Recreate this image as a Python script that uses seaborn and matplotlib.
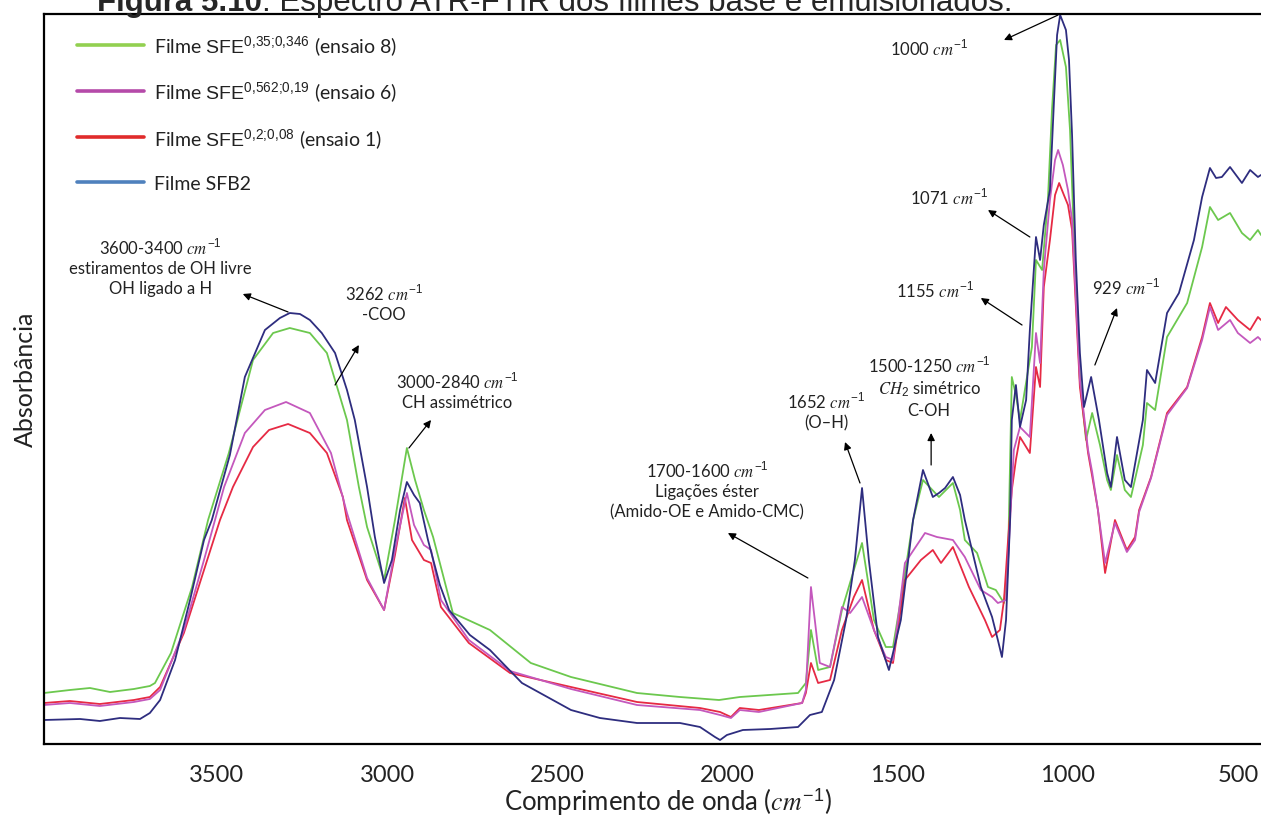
import matplotlib
matplotlib.use("Agg")
import matplotlib.pyplot as plt
import seaborn as sns
import pandas as pd
from matplotlib.lines import Line2D

# ATR-FTIR spectra (wavenumber in cm-1, absorbance in arbitrary units)
wn_sfb2 = [4008, 3902, 3844, 3785, 3726, 3697, 3667, 3623, 3579, 3538,
           3515, 3462, 3418, 3359, 3315, 3286, 3256, 3227, 3192, 3153,
           3118, 3095, 3059, 3036, 3009, 2986, 2962, 2942, 2921, 2904,
           2880, 2845, 2818, 2757, 2698, 2604, 2460, 2375, 2266, 2140,
           2081, 2037, 2022, 2002, 1955, 1875, 1793, 1758, 1723, 1687,
           1652, 1626, 1605, 1585, 1558, 1526, 1491, 1455, 1426, 1397,
           1379, 1361, 1338, 1317, 1303, 1256, 1223, 1206, 1194, 1182,
           1170, 1165, 1153, 1141, 1123, 1112, 1094, 1082, 1071, 1053,
           1041, 1032, 1023, 1006, 997, 988, 977, 965, 953, 932,
           909, 885, 874, 856, 833, 815, 780, 768, 744, 709,
           674, 630, 606, 583, 565, 548, 524, 489, 465, 442, 433]
abs_sfb2 = [.024, .025, .023, .026, .025, .031, .044, .084, .144, .204,
            .224, .289, .367, .414, .426, .431, .430, .424, .411, .391,
            .354, .324, .257, .207, .161, .184, .234, .262, .249, .241,
            .204, .159, .134, .109, .094, .061, .034, .026, .021, .021,
            .017, .007, .004, .009, .014, .015, .017, .029, .032, .064,
            .124, .184, .256, .184, .107, .074, .124, .224, .274, .247,
            .251, .256, .267, .249, .224, .157, .127, .104, .087, .124,
            .224, .324, .359, .317, .344, .414, .507, .484, .519, .554,
            .644, .709, .729, .714, .684, .609, .484, .391, .337, .367,
            .324, .271, .257, .307, .264, .257, .324, .374, .361, .431,
            .451, .504, .547, .576, .566, .567, .577, .561, .574, .567, .569]

wn_e8 = [4008, 3932, 3873, 3814, 3744, 3697, 3682, 3635, 3573, 3526,
         3465, 3394, 3335, 3286, 3227, 3177, 3118, 3083, 3059, 3009,
         2977, 2942, 2918, 2892, 2865, 2807, 2698, 2578, 2460, 2266,
         2140, 2025, 1964, 1793, 1770, 1755, 1734, 1699, 1664, 1629,
         1605, 1588, 1570, 1535, 1514, 1485, 1455, 1426, 1379, 1338,
         1317, 1303, 1267, 1235, 1212, 1188, 1176, 1165, 1153, 1141,
         1106, 1094, 1076, 1059, 1047, 1035, 1023, 1006, 994, 977,
         965, 947, 929, 906, 885, 874, 856, 833, 815, 780,
         768, 744, 709, 650, 606, 583, 559, 524, 489, 465, 442, 433]
abs_e8 = [.051, .054, .056, .052, .055, .058, .061, .091, .157, .224,
          .291, .384, .411, .416, .411, .391, .324, .257, .217, .164,
          .224, .296, .264, .234, .207, .131, .114, .081, .067, .051,
          .047, .044, .047, .051, .061, .114, .074, .077, .134, .174,
          .201, .164, .124, .097, .097, .157, .224, .264, .247, .261,
          .234, .204, .191, .157, .154, .141, .184, .367, .349, .324,
          .397, .484, .474, .544, .634, .699, .704, .677, .614, .457,
          .364, .304, .331, .299, .264, .254, .289, .254, .247, .299,
          .341, .334, .407, .441, .497, .537, .524, .531, .511, .504, .514, .509]

wn_e1 = [4008, 3932, 3844, 3744, 3697, 3667, 3597, 3538, 3491, 3453,
         3394, 3347, 3291, 3227, 3177, 3130, 3118, 3059, 3009, 2977,
         2948, 2927, 2892, 2871, 2842, 2760, 2639, 2460, 2266, 2081,
         2022, 1990, 1964, 1908, 1781, 1770, 1755, 1734, 1699, 1664,
         1629, 1605, 1570, 1535, 1514, 1479, 1432, 1397, 1373, 1338,
         1291, 1244, 1223, 1200, 1188, 1176, 1165, 1153, 1141, 1112,
         1094, 1082, 1071, 1053, 1038, 1026, 1012, 1000, 988, 965,
         941, 929, 912, 891, 862, 827, 803, 791, 756, 709,
         650, 606, 583, 559, 536, 501, 465, 442, 433]
abs_e1 = [.041, .043, .040, .044, .047, .057, .111, .174, .224, .257,
          .297, .314, .320, .311, .291, .247, .224, .164, .134, .189,
          .246, .204, .184, .181, .137, .101, .071, .057, .042, .036,
          .032, .027, .036, .034, .041, .051, .081, .061, .064, .114,
          .147, .164, .114, .084, .081, .164, .184, .194, .181, .197,
          .157, .124, .107, .114, .144, .204, .254, .284, .307, .291,
          .377, .357, .457, .504, .549, .561, .549, .539, .514, .357,
          .291, .268, .234, .171, .224, .194, .207, .234, .267, .331,
          .357, .407, .441, .421, .437, .424, .414, .427, .424]

wn_e6 = [4008, 3932, 3844, 3744, 3697, 3667, 3597, 3538, 3479, 3418,
         3359, 3297, 3227, 3165, 3118, 3059, 3009, 2977, 2942, 2921,
         2892, 2871, 2842, 2760, 2639, 2460, 2266, 2081, 2022, 1990,
         1964, 1908, 1781, 1770, 1755, 1729, 1699, 1664, 1640, 1605,
         1570, 1535, 1514, 1479, 1420, 1385, 1338, 1303, 1256, 1223,
         1206, 1182, 1170, 1159, 1141, 1112, 1094, 1082, 1071, 1053,
         1038, 1029, 1015, 1000, 988, 965, 941, 929, 912, 891,
         862, 827, 803, 791, 756, 709, 650, 606, 583, 559,
         524, 501, 465, 442, 433]
abs_e6 = [.039, .041, .038, .042, .045, .054, .114, .184, .257, .311,
          .334, .342, .331, .291, .231, .166, .134, .194, .251, .219,
          .199, .194, .144, .104, .073, .055, .039, .034, .029, .026,
          .034, .032, .041, .054, .157, .081, .077, .137, .131, .147,
          .114, .087, .084, .181, .211, .207, .204, .187, .154, .147,
          .141, .144, .224, .294, .317, .307, .411, .381, .474, .544,
          .584, .594, .579, .554, .524, .364, .294, .272, .234, .181,
          .221, .192, .204, .232, .266, .329, .356, .404, .437, .414,
          .424, .411, .401, .407, .404]

series = ["ensaio 8", "ensaio 1", "ensaio 6", "SFB2"]
line_colors = {"ensaio 8": "#6cc84e", "ensaio 1": "#e62a44",
               "ensaio 6": "#c458bd", "SFB2": "#2e2d7f"}

# U+037E (greek question mark) looks like ';' but avoids mathtext punctuation spacing
legend_labels = ["Filme $\\mathrm{SFE}^{0{,}35\u037e0{,}346}$ (ensaio 8)",
                 "Filme $\\mathrm{SFE}^{0{,}562\u037e0{,}19}$ (ensaio 6)",
                 "Filme $\\mathrm{SFE}^{0{,}2\u037e0{,}08}$ (ensaio 1)",
                 "Filme SFB2"]
legend_colors = ["#92d050", "#b54aa9", "#e02b2b", "#4f81bd"]

xticks = [3500, 3000, 2500, 2000, 1500, 1000, 500]

df = pd.concat([
    pd.DataFrame({"wn": wn_e8, "a": abs_e8, "serie": "ensaio 8"}),
    pd.DataFrame({"wn": wn_e1, "a": abs_e1, "serie": "ensaio 1"}),
    pd.DataFrame({"wn": wn_e6, "a": abs_e6, "serie": "ensaio 6"}),
    pd.DataFrame({"wn": wn_sfb2, "a": abs_sfb2, "serie": "SFB2"}),
], ignore_index=True)

# peak annotations: text, text position, arrow tail, arrow head
notes = [
    ("1000 $cm^{-1}$", (1408, .696), (1029, .729), (1188, .704)),
    ("1071 $cm^{-1}$", (1350, .547), (1112, .507), (1235, .534)),
    ("1155 $cm^{-1}$", (1391, .454), (1135, .419), (1256, .446)),
    ("929 $cm^{-1}$", (830, .457), (921, .379), (856, .436)),
    ("1500-1250 $cm^{-1}$\n$CH_2$ simétrico\nC-OH", (1408, .357), (1402, .279), (1402, .311)),
    ("1652 $cm^{-1}$\n(O–H)", (1711, .333), (1611, .261), (1655, .302)),
    ("1700-1600 $cm^{-1}$\nLigações éster\n(Amido-OE e Amido-CMC)", (2060, .254), (1764, .166), (1999, .211)),
    ("3000-2840 $cm^{-1}$\nCH assimétrico", (2795, .353), (2936, .296), (2871, .324)),
    ("3262 $cm^{-1}$\n-COO", (3009, .441), (3153, .359), (3083, .399)),
    ("3600-3400 $cm^{-1}$\nestiramentos de OH livre\nOH ligado a H", (3665, .477), (3291, .432), (3424, .450)),
]

sns.set_style("white")
plt.rcParams["font.family"] = ["Lato", "DejaVu Sans"]
plt.rcParams["mathtext.fontset"] = "custom"
plt.rcParams["mathtext.rm"] = "Liberation Sans"
plt.rcParams["mathtext.it"] = "STIXGeneral:italic"
plt.rcParams["mathtext.bf"] = "Liberation Sans:bold"

W, H = 1261, 821
fig = plt.figure(figsize=(W / 100, H / 100), dpi=100)
ax = fig.add_axes([44 / W, (H - 744) / H, 1 - 44 / W, (744 - 14) / H])

sns.lineplot(data=df, x="wn", y="a", hue="serie", hue_order=series,
             palette=line_colors, sort=False, estimator=None,
             linewidth=1.3, legend=False, ax=ax)

ax.set_xlim(4008, 433)
ax.set_ylim(0, 0.73)
ax.set_xticks(xticks)
ax.set_yticks([])
ax.tick_params(axis="x", direction="out", length=8, width=1.6,
               labelsize=17, pad=7, color="black", labelcolor="#222222")
for side in ["left", "bottom", "top"]:
    ax.spines[side].set_color("black")
    ax.spines[side].set_linewidth(1.6)
ax.spines["right"].set_visible(False)

ax.set_xlabel("Comprimento de onda ($cm^{-1}$)", fontsize=18.5, color="#222222")
ax.xaxis.set_label_coords((668 - 44) / (W - 44), -0.058)
ax.set_ylabel("Absorbância", fontsize=18, color="#222222", labelpad=5)

for txt, pos, tail, head in notes:
    ax.text(pos[0], pos[1], txt, ha="center", va="center", fontsize=12,
            color="#222222", linespacing=1.3)
    ax.annotate("", xy=head, xytext=tail,
                arrowprops=dict(arrowstyle="-|>", color="black", lw=0.9,
                                mutation_scale=11, shrinkA=0, shrinkB=0))

handles = [Line2D([], [], color=c, lw=2.6) for c in legend_colors]
ax.legend(handles, legend_labels, loc="upper left", bbox_to_anchor=(0.027, 0.972),
          frameon=False, fontsize=14, handlelength=3.45, handletextpad=0.5,
          handleheight=1.35, labelspacing=1.1, borderpad=0, borderaxespad=0,
          labelcolor="#222222")

# figure caption, cut at the top edge as in the source
t1 = fig.text(97 / W, 1 - 11 / H, "Figura 5.10", fontsize=22.5, fontweight="bold",
              family="Liberation Sans", va="baseline")
fig.canvas.draw()
bb = t1.get_window_extent(fig.canvas.get_renderer())
fig.text(bb.x1 / W, 1 - 11 / H, ": Espectro ATR-FTIR dos filmes base e emulsionados.",
         fontsize=22.5, family="Liberation Sans", va="baseline")

fig.savefig("out.png", dpi=100)
